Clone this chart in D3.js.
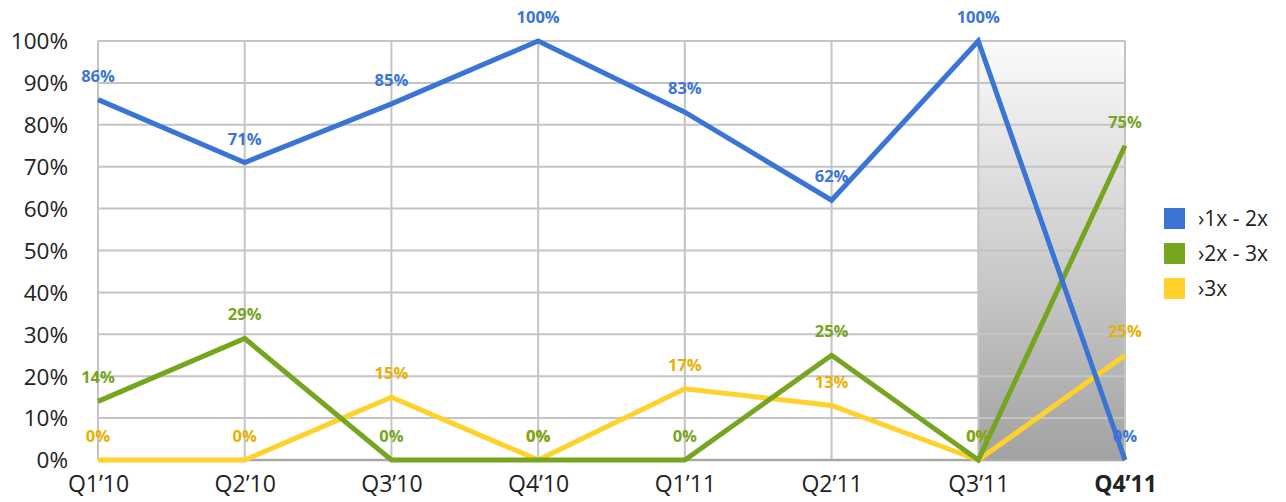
<!DOCTYPE html>
<html><head><meta charset="utf-8">
<script src="https://cdn.jsdelivr.net/npm/d3@7"></script>
<style>body{margin:0;background:#fff}svg{display:block}</style>
</head><body>
<svg id="c" width="1286" height="502"></svg>
<script>
const categories = ["Q1’10","Q2’10","Q3’10","Q4’10","Q1’11","Q2’11","Q3’11","Q4’11"];
const seriesNames = ["›1x - 2x","›2x - 3x","›3x"];
const s1 = [86,71,85,100,83,62,100,0];
const s2 = [14,29,0,0,0,25,0,75];
const s3 = [0,0,15,0,17,13,0,25];
const yTicks = [0,10,20,30,40,50,60,70,80,90,100];

const lineColors = ["#3a75d6","#76a51f","#ffd12b"];
const labelColors = ["#3a75d6","#76a51f","#e8b000"];
const font = "'Open Sans', 'Noto Sans', sans-serif";

const svg = d3.select("#c");
const x = d3.scalePoint().domain(categories).range([98,1125]);
const y = d3.scaleLinear().domain([0,100]).range([460,41]);

const defs = svg.append("defs");
const g = defs.append("linearGradient").attr("id","shade").attr("x1",0).attr("y1",0).attr("x2",0).attr("y2",1);
g.append("stop").attr("offset","0%").attr("stop-color","#fbfbfb");
g.append("stop").attr("offset","100%").attr("stop-color","#a2a2a2");

svg.append("rect").attr("x",x("Q3’11")).attr("y",y(100))
  .attr("width",x("Q4’11")-x("Q3’11")).attr("height",y(0)-y(100)).attr("fill","url(#shade)");

svg.append("g").selectAll("line").data(yTicks.filter(d=>d>0)).join("line")
  .attr("x1",x.range()[0]).attr("x2",x.range()[1])
  .attr("y1",d=>y(d)).attr("y2",d=>y(d))
  .attr("stroke","#c4c4c4").attr("stroke-width",2);
svg.append("g").selectAll("line").data(categories).join("line")
  .attr("x1",d=>x(d)).attr("x2",d=>x(d)).attr("y1",y(100)).attr("y2",y(0))
  .attr("stroke","#c4c4c4").attr("stroke-width",2);
svg.append("line").attr("x1",x.range()[0]).attr("x2",x.range()[1]).attr("y1",y(0)).attr("y2",y(0))
  .attr("stroke","#a8a8a8").attr("stroke-width",2.5);

const yAxis = d3.axisLeft(y).tickValues(yTicks).tickFormat(d=>d+"%").tickSize(0).tickPadding(0);
const ya = svg.append("g").attr("transform","translate(68,0)").call(yAxis);
ya.select(".domain").remove();
ya.selectAll("text").attr("font-family",font).attr("font-size",22.5).attr("fill","#222").attr("dy","0.35em");

const xAxis = d3.axisBottom(x).tickSize(0).tickPadding(0);
const xa = svg.append("g").attr("transform","translate(0,475)").call(xAxis);
xa.select(".domain").remove();
xa.selectAll("text").attr("font-family",font).attr("font-size",23).attr("fill","#222").attr("dy","0.72em")
  .attr("font-weight",d=>d==="Q4’11"?"bold":"normal");

const series = [s1,s2,s3];
const line = d3.line().x((d,i)=>x(categories[i])).y(d=>y(d));
[2,1,0].forEach(k=>{
  svg.append("path").datum(series[k]).attr("d",line).attr("fill","none")
    .attr("stroke",lineColors[k]).attr("stroke-width",5).attr("stroke-linejoin","miter");
});
[2,1,0].forEach(k=>{
  svg.append("g").selectAll("text").data(series[k]).join("text")
    .attr("x",(d,i)=>x(categories[i])).attr("y",d=>y(d)-18)
    .attr("text-anchor","middle").attr("font-family",font).attr("font-weight","bold")
    .attr("font-size",16.5).attr("fill",labelColors[k]).text(d=>d+"%");
});

const lg = svg.append("g").attr("transform","translate(1164,208)");
seriesNames.forEach((n,i)=>{
  lg.append("rect").attr("x",0).attr("y",i*35).attr("width",21).attr("height",21).attr("fill",lineColors[i]);
  lg.append("text").attr("x",34).attr("y",i*35+10.5).attr("dy","0.35em")
    .attr("font-family",font).attr("font-size",21).attr("fill","#222").text(n);
});
</script>
</body></html>
